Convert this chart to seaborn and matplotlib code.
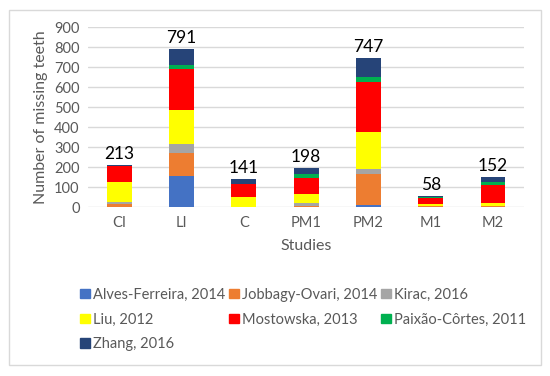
import pandas as pd
import matplotlib
matplotlib.use('Agg')
import matplotlib.pyplot as plt
from matplotlib.patches import Patch, Rectangle
import seaborn as sns

sns.set_style('white')
plt.rcParams['font.family'] = ['Lato', 'DejaVu Sans']

# teeth categories on the x axis
teeth = ['CI', 'LI', 'C', 'PM1', 'PM2', 'M1', 'M2']

# missing teeth per study
alves = [0, 158, 0, 0, 13, 0, 0]
jobbagy = [18, 115, 0, 8, 155, 6, 5]
kirac = [8, 42, 0, 12, 23, 2, 3]
liu = [102, 172, 50, 48, 185, 8, 13]
mostowska = [80, 204, 65, 80, 252, 28, 92]
paixao = [0, 19, 0, 16, 25, 5, 12]
zhang = [5, 81, 26, 34, 94, 9, 27]

studies = ['Alves-Ferreira, 2014', 'Jobbagy-Ovari, 2014', 'Kirac, 2016',
           'Liu, 2012', 'Mostowska, 2013', 'Paixão-Côrtes, 2011', 'Zhang, 2016']
series = [alves, jobbagy, kirac, liu, mostowska, paixao, zhang]
colors = ['#4472C4', '#ED7D31', '#A5A5A5', '#FFFF00', '#FF0000', '#00B050', '#264478']

df = pd.DataFrame(dict(zip(studies, series)), index=teeth)
totals = df.sum(axis=1)

fig = plt.figure(figsize=(5.5, 3.76), dpi=100)
ax = fig.add_axes([0.16, 0.449, 0.793, 0.479])

bottom = pd.Series(0, index=teeth)
for name, col in zip(studies, colors):
    sns.barplot(x=teeth, y=df[name].values, bottom=bottom.values, color=col,
                width=0.4, ax=ax, saturation=1, linewidth=0)
    bottom = bottom + df[name]

for i, t in enumerate(totals):
    ax.text(i, t + 14, str(t), ha='center', va='bottom', fontsize=12.5, color='black')

ax.set_ylim(0, 900)
ax.set_yticks(range(0, 901, 100))
ax.yaxis.grid(True, color='#d9d9d9', linewidth=1)
ax.set_axisbelow(True)
for s in ax.spines.values():
    s.set_visible(False)
ax.tick_params(axis='both', length=0, labelsize=10.5, colors='#595959', pad=6)
ax.set_ylabel('Number of missing teeth', fontsize=11.5, color='#595959')
ax.set_xlabel('Studies', fontsize=11.5, color='#595959', labelpad=7)

# legend laid out row by row like the original
handles = [Patch(color=c, label=s) for s, c in zip(studies, colors)]
order = [0, 3, 6, 1, 4, 2, 5]
fig.legend([handles[i] for i in order], [studies[i] for i in order],
           ncol=3, loc='upper left', bbox_to_anchor=(0.122, 0.27),
           frameon=False, fontsize=10.5, labelcolor='#595959',
           handlelength=0.65, handleheight=0.65, handletextpad=0.2,
           columnspacing=0.3, labelspacing=0.75)

fig.patches.append(Rectangle((0.016, 0.029), 0.967, 0.944, transform=fig.transFigure,
                             fill=False, edgecolor='#d9d9d9', linewidth=1))

fig.savefig('out.png', dpi=100)
